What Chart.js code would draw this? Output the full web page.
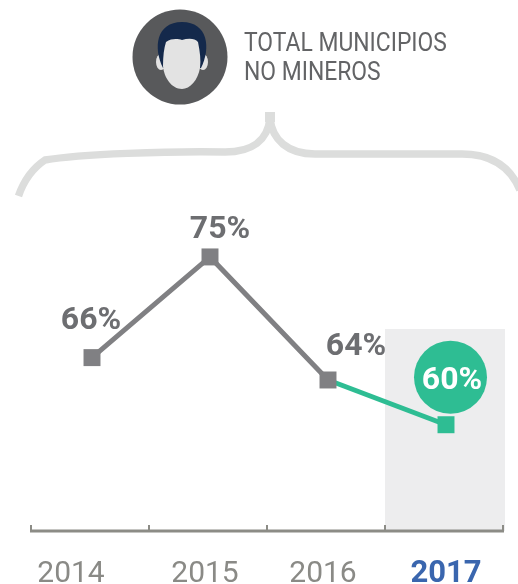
<!DOCTYPE html>
<html><head><meta charset="utf-8">
<style>html,body{margin:0;padding:0;background:#fff}canvas{display:block}</style>
<script src="https://cdn.jsdelivr.net/npm/chart.js@4"></script>
</head><body>
<canvas id="c" width="518" height="584"></canvas>
<script>
const years = ['2014','2015','2016','2017'];
const values = [66,75,64,60];
const heading = ['TOTAL MUNICIPIOS','NO MINEROS'];
const GREY='#808083', TEAL='#2EBD93';
const labelOffsets = [[-1,-29],[10,-19],[28,-25],[6,-36]];
const tickLabelShift = [-21,-5,-5,0];

const decorations = {
  id:'decorations',
  beforeDraw(chart){
    const x=chart.scales.x;
    if(!x.$shifted){
      x.getLabelItems().forEach((it,i)=>{it.options.translation[0]+=tickLabelShift[i];});
      x.$shifted=true;
    }
  },
  beforeDatasetsDraw(chart){
    const {ctx,scales:{x},chartArea:a}=chart;
    ctx.save();
    // highlight band
    const half=(x.getPixelForTick(1)-x.getPixelForTick(0))/2;
    const bx=x.getPixelForTick(3)-half-2;
    ctx.fillStyle='#EDEDEE';
    ctx.fillRect(bx,329,a.right-bx,a.bottom-329);
    // axis ticks
    ctx.strokeStyle='#8C8C86';ctx.lineWidth=2;
    for(let i=0;i<=4;i++){
      const tx=a.left-2+i*half*2;
      ctx.beginPath();ctx.moveTo(tx,a.bottom);ctx.lineTo(tx,a.bottom-6);ctx.stroke();
    }
    ctx.lineWidth=3;ctx.beginPath();ctx.moveTo(a.left-3,a.bottom);ctx.lineTo(a.right-1,a.bottom);ctx.stroke();
    // bracket
    ctx.strokeStyle='#DCDDDC';ctx.lineWidth=7.5;
    ctx.beginPath();
    ctx.moveTo(18.5,196);
    ctx.bezierCurveTo(24,180,33,168,45,160);
    ctx.bezierCurveTo(80,154,170,151,225,152);
    ctx.bezierCurveTo(252,152,268,140,270,118);
    ctx.bezierCurveTo(272,140,288,154,315,154);
    ctx.lineTo(462,154);
    ctx.bezierCurveTo(490,154,510,166,520,190);
    ctx.stroke();
    ctx.lineWidth=10;ctx.beginPath();ctx.moveTo(270,112);ctx.lineTo(270,122);ctx.stroke();
    // avatar
    ctx.fillStyle='#58595B';ctx.beginPath();ctx.arc(180,57,47.5,0,Math.PI*2);ctx.fill();
    ctx.fillStyle='#E3E3E3';
    ctx.beginPath();ctx.ellipse(161,62,5,8,0,0,Math.PI*2);ctx.fill();
    ctx.beginPath();ctx.ellipse(203,62,5,8,0,0,Math.PI*2);ctx.fill();
    ctx.fillStyle='#14294B';
    ctx.beginPath();
    ctx.moveTo(163,68);
    ctx.bezierCurveTo(153,48,156,22,182,22);
    ctx.bezierCurveTo(208,22,211,48,201,68);
    ctx.closePath();ctx.fill();
    ctx.fillStyle='#E3E3E3';
    ctx.beginPath();
    ctx.moveTo(166,42);
    ctx.bezierCurveTo(172,38,178,39,182,40);
    ctx.bezierCurveTo(188,38,195,38,198,42);
    ctx.bezierCurveTo(200,52,201,60,200,68);
    ctx.bezierCurveTo(198,80,190,89,182,89);
    ctx.bezierCurveTo(172,89,164,78,163,66);
    ctx.bezierCurveTo(163,56,164,48,166,42);
    ctx.closePath();ctx.fill();
    // heading
    ctx.fillStyle='#636466';ctx.font='400 25px Roboto';
    ctx.textAlign='left';ctx.textBaseline='alphabetic';
    ctx.save();ctx.translate(244,0);ctx.scale(0.915,1);
    ctx.fillText(heading[0],0,51);
    ctx.fillText(heading[1],0,79.5);
    ctx.restore();
    ctx.restore();
  },
  afterDatasetsDraw(chart){
    const {ctx}=chart;
    const pts=chart.getDatasetMeta(0).data;
    ctx.save();
    const p3=pts[3];
    ctx.fillStyle=TEAL;ctx.beginPath();ctx.arc(p3.x+4.5,p3.y-47.5,36.5,0,Math.PI*2);ctx.fill();
    ctx.textAlign='center';ctx.textBaseline='alphabetic';ctx.font='700 32px Roboto';
    values.forEach((v,i)=>{
      ctx.fillStyle=i===3?'#FFFFFF':'#6D6E71';
      ctx.fillText(v+'%',pts[i].x+labelOffsets[i][0],pts[i].y+labelOffsets[i][1]);
    });
    ctx.restore();
  }
};

new Chart(document.getElementById('c'),{
  type:'line',
  data:{labels:years,datasets:[{
    data:values,
    borderColor:GREY,borderWidth:5,tension:0,
    segment:{borderColor:c=>c.p1DataIndex===3?TEAL:GREY},
    pointStyle:'rect',pointRadius:12,pointHoverRadius:12,pointBorderWidth:0,
    pointBackgroundColor:[GREY,GREY,GREY,TEAL]
  }]},
  options:{
    responsive:false,animation:false,devicePixelRatio:1,
    layout:{padding:{left:33,right:13,top:201,bottom:0}},
    plugins:{legend:{display:false},tooltip:{enabled:false},title:{display:false}},
    scales:{
      x:{offset:true,grid:{display:false},border:{display:false},
        afterFit(s){s.height=53;},
        ticks:{padding:17,maxRotation:0,autoSkip:false,
          color:c=>c.index===3?'#3A66AE':'#8A8A86',
          font:c=>({family:'Roboto',size:c.index===3?31:30,weight:c.index===3?'700':'400'})}},
      y:{display:false,min:50.5,max:80}
    }
  },
  plugins:[decorations]
});
</script>
</body></html>
